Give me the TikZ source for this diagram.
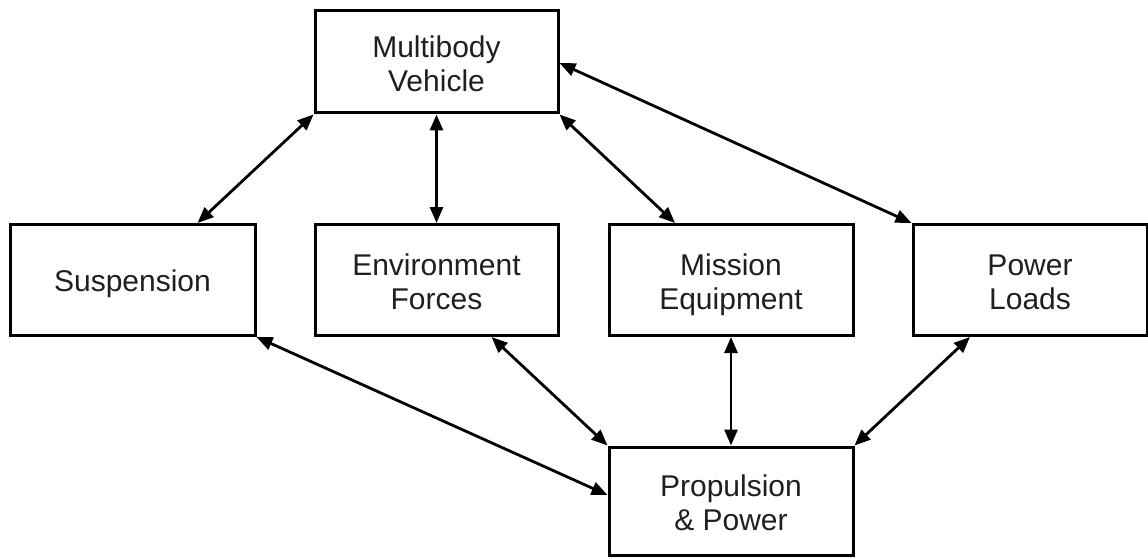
\documentclass[tikz,border=0pt]{standalone}
\usepackage{fontspec}
\setmainfont{Liberation Sans}
\usepackage{tikz}
\usetikzlibrary{arrows.meta, calc, positioning}

\newcommand{\boxlead}{\rule{0pt}{36pt}}

\tikzset{
  blockbox/.style={draw, line width=3pt, inner sep=0pt, align=center,
    font=\fontsize{30}{34}\selectfont, text=black!88,
    execute at begin node={\rule{0pt}{34pt}}, execute at end node=\strut},
  biarrow/.style={{Triangle[length=16pt,width=13pt]}-{Triangle[length=16pt,width=13pt]}, line width=2.8pt}
}

\begin{document}
\begin{tikzpicture}[x=1pt,y=1pt,yscale=-1,xscale=1]
\useasboundingbox (0,0) rectangle (1148,559);

% Boxes
\node [blockbox, minimum width=243pt, minimum height=102pt] (mbv) at (436.5,62) {\boxlead Multibody\\Vehicle};
\node [blockbox, minimum width=245pt, minimum height=111pt] (susp) at (132.5,280) {Suspension};
\node [blockbox, minimum width=243pt, minimum height=111pt] (envf) at (436.5,280) {\boxlead Environment\\Forces};
\node [blockbox, minimum width=244pt, minimum height=111pt] (misseq) at (731,280) {\boxlead Mission\\Equipment};
\node [blockbox, minimum width=234pt, minimum height=111pt] (pwrld) at (1030,280) {\boxlead Power\\Loads};
\node [blockbox, minimum width=244pt, minimum height=108pt] (prop) at (731,501) {\boxlead Propulsion\\\& Power};

% Links to the vehicle
\draw [biarrow] (mbv.south west) -- ([xshift=65pt]susp.north);
\draw [biarrow] (mbv.south) -- (envf.north);
\draw [biarrow] (mbv.south east) -- ([xshift=-56pt]misseq.north);
\draw [biarrow] ([yshift=1pt]mbv.east) -- (pwrld.north west);

% Links to propulsion
\draw [biarrow] (susp.south east) -- ([yshift=-6pt]prop.west);
\draw [biarrow] ([xshift=55pt]envf.south) -- (prop.north west);
\draw [biarrow] (misseq.south) -- (prop.north);
\draw [biarrow] ([xshift=-60pt]pwrld.south) -- (prop.north east);

\end{tikzpicture}
\end{document}
